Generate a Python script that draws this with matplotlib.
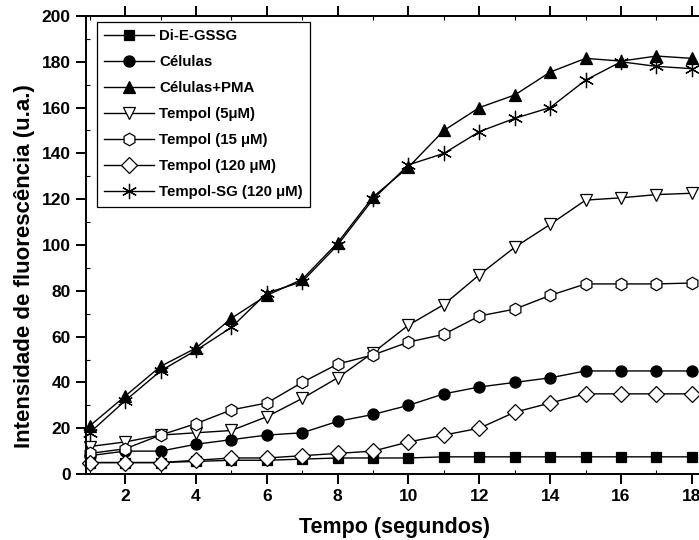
import numpy as np
import matplotlib
matplotlib.use('Agg')
import matplotlib.pyplot as plt

plt.rcParams['font.family'] = ['Liberation Sans', 'DejaVu Sans']
plt.rcParams['font.weight'] = 'bold'

tempo = np.arange(1, 19)

di_e_gssg = [5, 5, 5, 5.5, 6, 6, 6.5, 7, 7, 7, 7.5, 7.5, 7.5, 7.5, 7.5, 7.5, 7.5, 7.5]
celulas = [8, 10, 10, 13, 15, 17, 18, 23, 26, 30, 35, 38, 40, 42, 45, 45, 45, 45]
celulas_pma = [21, 34, 47, 55, 68, 78, 85, 101, 121, 134, 150, 160, 165.5, 175.5, 181.5, 180.3, 182.5, 181.5]
tempol_5 = [12, 14, 17, 18, 19, 25, 33, 42, 53, 65, 74, 87, 99, 109, 119.6, 120.6, 122, 122.6]
tempol_15 = [9, 11, 17, 22, 28, 31, 40, 48, 52, 57.6, 61, 69, 72, 78, 83, 83, 83, 83.4]
tempol_120 = [5, 5, 5, 6, 7, 7, 8, 9, 10, 14, 17, 20, 27, 31, 35, 35, 35, 35]
tempol_sg = [18, 32, 45, 54, 64, 79, 84, 100, 120, 135, 140, 149.5, 155.3, 160, 172, 180, 178, 177]

series = [
    (di_e_gssg, 'Di-E-GSSG', 's', 'k', 7),
    (celulas, 'Células', 'o', 'k', 8),
    (celulas_pma, 'Células+PMA', '^', 'k', 9),
    (tempol_5, 'Tempol (5μM)', 'v', 'w', 9),
    (tempol_15, 'Tempol (15 μM)', 'h', 'w', 9),
    (tempol_120, 'Tempol (120 μM)', 'D', 'w', 8),
    (tempol_sg, 'Tempol-SG (120 μM)', (6, 2, 0), 'k', 11),
]

fig = plt.figure(figsize=(6.99, 5.40), dpi=100)
ax = fig.add_axes([0.123, 0.1222, 0.882, 0.8482])

for y, lab, mk, fc, ms in series:
    ax.plot(tempo, y, color='k', lw=1.0, marker=mk, markersize=ms,
            markerfacecolor=fc, markeredgecolor='k', markeredgewidth=0.9,
            label=lab, clip_on=False)

ax.set_xlim(0.895, 18.3)
ax.set_ylim(0, 200)
ax.set_xticks(np.arange(2, 19, 2))
ax.set_xticks(np.arange(1, 19, 1), minor=True)
ax.set_yticks(np.arange(0, 201, 20))
ax.set_yticks(np.arange(10, 200, 20), minor=True)

ax.tick_params(axis='both', which='major', direction='out', length=7, width=1.4,
               labelsize=12.5, pad=4)
ax.tick_params(axis='both', which='minor', direction='in', length=3, width=0.8)
ax.tick_params(axis='x', which='both', top=True)
ax.tick_params(axis='x', which='minor', top=True, direction='in')
for lbl in ax.get_xticklabels() + ax.get_yticklabels():
    lbl.set_fontweight('bold')
for s in ax.spines.values():
    s.set_linewidth(1.4)

ax.set_xlabel('Tempo (segundos)', fontsize=15.5, fontweight='bold', labelpad=9)
ax.set_ylabel('Intensidade de fluorescência (u.a.)', fontsize=16, fontweight='bold')
ax.yaxis.set_label_coords(-0.082, 0.455)

leg = ax.legend(loc='upper left', bbox_to_anchor=(0.0178, 0.987), borderaxespad=0,
                frameon=True, fancybox=False, edgecolor='k', framealpha=1,
                fontsize=10.8, handlelength=3.3, labelspacing=0.8,
                borderpad=0.5, handletextpad=0.35)
leg.get_frame().set_linewidth(0.9)
for t in leg.get_texts():
    t.set_fontweight('bold')

fig.savefig('out.png', dpi=100)
